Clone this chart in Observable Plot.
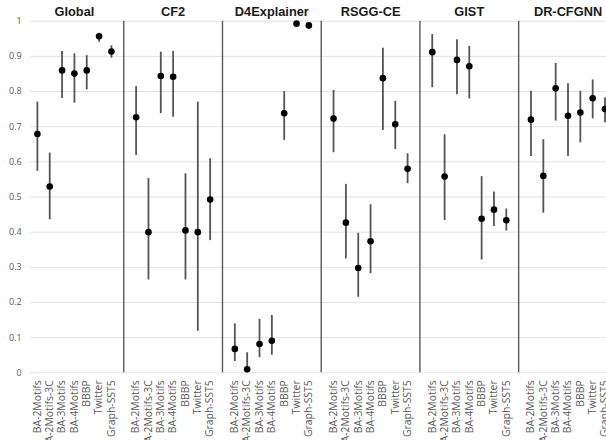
<!DOCTYPE html>
<html>
<head>
<meta charset="utf-8">
<script src="https://cdn.jsdelivr.net/npm/d3@7"></script>
<script src="https://cdn.jsdelivr.net/npm/@observablehq/plot@0.6"></script>
<style>
  html, body { margin: 0; padding: 0; background: white; overflow: hidden; }
</style>
</head>
<body>
<div id="chart"></div>
<script>
const facets = ["Global", "CF2", "D4Explainer", "RSGG-CE", "GIST", "DR-CFGNN"];
const datasets = ["BA-2Motifs", "BA-2Motifs-3C", "BA-3Motifs", "BA-4Motifs", "BBBP", "Twitter", "Graph-SST5"];

// point estimates, one row per facet, one column per dataset
const means = [
  [0.679, 0.530, 0.860, 0.851, 0.860, 0.957, 0.914],
  [0.727, 0.400, 0.844, 0.842, 0.405, 0.400, 0.493],
  [0.068, 0.010, 0.082, 0.091, 0.738, 0.993, 0.988],
  [0.723, 0.427, 0.298, 0.374, 0.838, 0.707, 0.580],
  [0.912, 0.558, 0.890, 0.872, 0.438, 0.464, 0.434],
  [0.720, 0.560, 0.809, 0.731, 0.740, 0.781, 0.750]
];
const lows = [
  [0.573, 0.435, 0.780, 0.767, 0.805, 0.940, 0.895],
  [0.618, 0.264, 0.737, 0.727, 0.264, 0.118, 0.376],
  [0.032, 0.000, 0.043, 0.050, 0.661, 0.983, 0.976],
  [0.626, 0.324, 0.215, 0.282, 0.689, 0.635, 0.538],
  [0.811, 0.433, 0.791, 0.779, 0.321, 0.416, 0.403],
  [0.615, 0.454, 0.716, 0.615, 0.654, 0.722, 0.711]
];
const highs = [
  [0.770, 0.625, 0.914, 0.907, 0.902, 0.966, 0.930],
  [0.814, 0.553, 0.912, 0.914, 0.566, 0.770, 0.609],
  [0.139, 0.057, 0.152, 0.163, 0.800, 0.996, 0.992],
  [0.803, 0.536, 0.397, 0.478, 0.923, 0.772, 0.623],
  [0.962, 0.677, 0.947, 0.928, 0.558, 0.514, 0.466],
  [0.801, 0.663, 0.880, 0.822, 0.801, 0.833, 0.782]
];
const yTicks = [0, 0.1, 0.2, 0.3, 0.4, 0.5, 0.6, 0.7, 0.8, 0.9, 1];

// slots: each facet takes 8 slots (7 datasets + separator)
const slotsPerFacet = datasets.length + 1;
const rows = [];
facets.forEach((f, fi) => {
  datasets.forEach((d, di) => {
    rows.push({
      facet: f,
      dataset: d,
      k: fi * slotsPerFacet + di + 1,
      mean: means[fi][di],
      lo: lows[fi][di],
      hi: highs[fi][di]
    });
  });
});
const separators = facets.slice(1).map((_, i) => (i + 1) * slotsPerFacet);
const titleRows = facets.map((f, i) => ({name: f, k: i * slotsPerFacet + slotsPerFacet / 2}));

const W = 606, H = 440;
const mLeft = 24.55, step = 12.34;
const xMax = (W - mLeft) / step;

const chart = Plot.plot({
  width: W,
  height: H,
  marginLeft: mLeft,
  marginRight: 0,
  marginTop: 20.7,
  marginBottom: 67.7,
  style: {fontFamily: "'Open Sans', sans-serif", background: "white"},
  x: {type: "linear", domain: [0, xMax], axis: null},
  y: {domain: [0, 1], axis: null},
  marks: [
    Plot.ruleY(yTicks, {x1: 0.44, x2: xMax, stroke: "#e3e3e3", strokeWidth: 1}),
    Plot.axisY(yTicks, {
      tickSize: 0, tickPadding: 3.5, tickFormat: d => String(d),
      fontSize: 9, color: "#595959", fontFamily: "'Open Sans', sans-serif"
    }),
    Plot.ruleX(separators, {y1: 0, y2: 1, stroke: "#595959", strokeWidth: 1.4}),
    Plot.ruleX(rows, {x: "k", y1: "lo", y2: "hi", stroke: "#555555", strokeWidth: 1.8}),
    Plot.dot(rows, {x: "k", y: "mean", r: 3.3, fill: "black", stroke: "none"}),
    Plot.text(rows, {
      x: "k", y: 0, text: "dataset", rotate: -90, textAnchor: "end",
      dy: 7.5, fontSize: 10.4, fill: "#595959", fontFamily: "'Open Sans', sans-serif"
    }),
    Plot.text(titleRows, {
      x: "k", y: 1, text: "name", dy: -9, fontSize: 12.8, fontWeight: "bold",
      fill: "#1a1a1a", fontFamily: "'Liberation Sans', Arial, sans-serif"
    })
  ]
});
document.getElementById("chart").appendChild(chart);
</script>
</body>
</html>
